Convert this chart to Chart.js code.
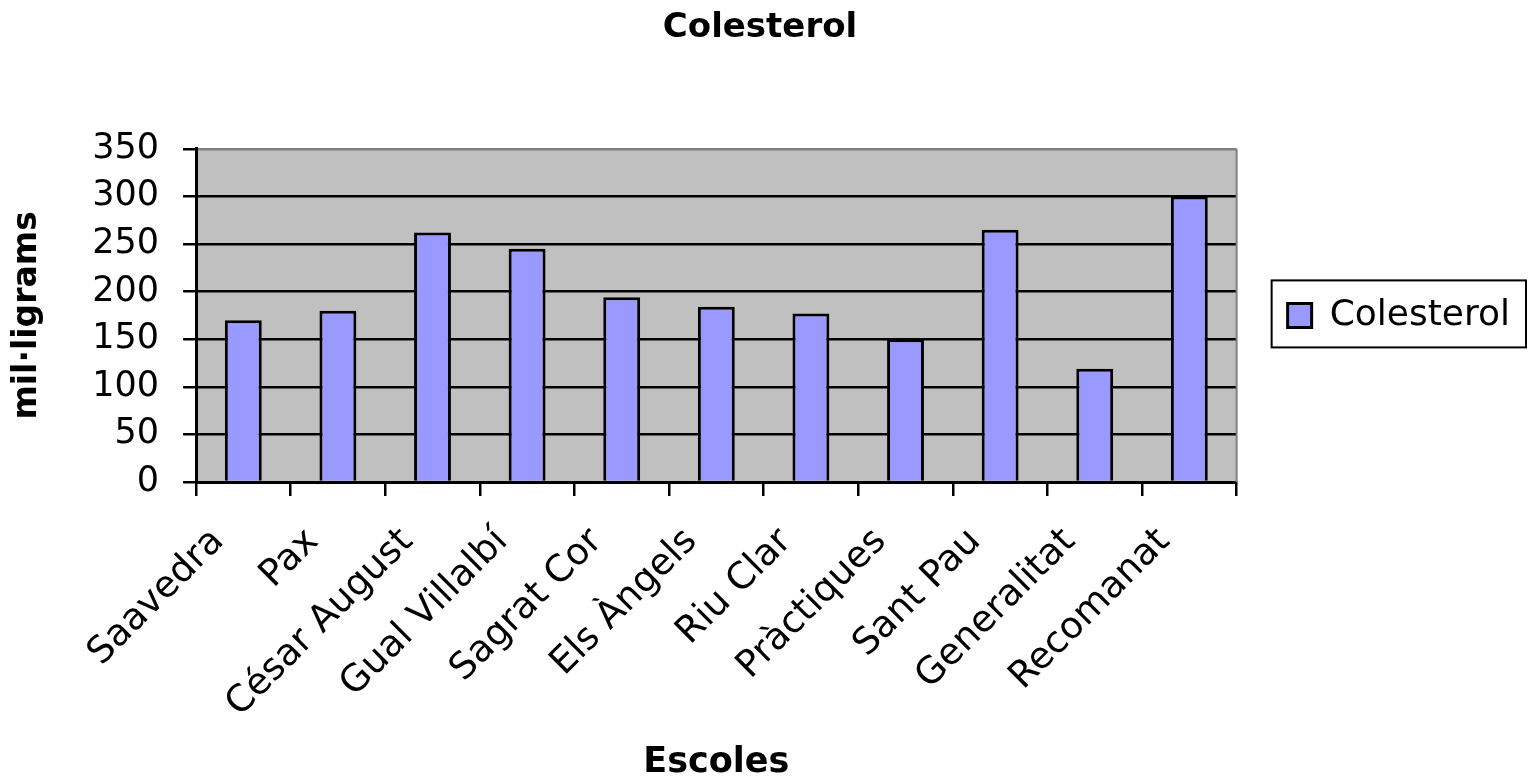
<!DOCTYPE html>
<html>
<head>
<meta charset="utf-8">
<script src="https://cdn.jsdelivr.net/npm/chart.js@4/dist/chart.umd.min.js"></script>
<style>
    html, body { margin: 0; padding: 0; background: #fff; }
    #wrap { width: 1530px; height: 784px; }
</style>
</head>
<body>
<div id="wrap"><canvas id="myChart" width="1530" height="784"></canvas></div>
<script>
// dades llegides del gràfic
const escoles = ['Saavedra', 'Pax', 'César August', 'Gual Villalbí', 'Sagrat Cor', 'Els Àngels',
    'Riu Clar', 'Pràctiques', 'Sant Pau', 'Generalitat', 'Recomanat'];
const colesterol = [170, 180, 262, 245, 194, 184, 177, 150, 265, 119, 300];
const yTicks = [0, 50, 100, 150, 200, 250, 300, 350];

const FONT = "'DejaVu Sans', sans-serif";

// fons gris de l'àrea, vora dreta i marc de la llegenda
const plotBg = {
    id: 'plotBg',
    beforeDraw(chart) {
        const a = chart.chartArea, c = chart.ctx;
        c.save();
        c.fillStyle = '#C0C0C0';
        c.fillRect(a.left, a.top, a.right - a.left, a.bottom - a.top);
        c.restore();
    },
    afterDraw(chart) {
        const a = chart.chartArea, c = chart.ctx;
        c.save();
        c.strokeStyle = '#808080';
        c.lineWidth = 2;
        c.beginPath();
        c.moveTo(a.right, a.top);
        c.lineTo(a.right, a.bottom);
        c.stroke();
        const lg = chart.legend;
        if (lg && lg.legendHitBoxes.length) {
            const hb = lg.legendHitBoxes[0];
            c.strokeStyle = '#000';
            c.lineWidth = 2;
            c.strokeRect(hb.left - 16, hb.top + hb.height / 2 - 35, hb.width + 32, 67);
        }
        c.restore();
    }
};

const ctx = document.getElementById('myChart').getContext('2d');
const myChart = new Chart(ctx, {
    type: 'bar',
    data: {
        labels: escoles,
        datasets: [{
            label: 'Colesterol',
            data: colesterol,
            backgroundColor: '#9999FF',
            borderColor: '#000',
            borderWidth: 3,
            categoryPercentage: 1,
            barPercentage: 0.39
        }]
    },
    options: {
        responsive: false,
        animation: false,
        layout: { padding: { left: 0, right: 10, top: 0, bottom: 0 } },
        plugins: {
            title: {
                display: true,
                text: 'Colesterol',
                color: '#000',
                font: { family: FONT, size: 34, weight: 'bold' },
                padding: { top: 8, bottom: 100 }
            },
            legend: {
                position: 'right',
                fullSize: false,
                labels: {
                    color: '#000',
                    font: { family: FONT, size: 36 },
                    boxWidth: 24,
                    boxHeight: 24,
                    padding: 51
                }
            },
            tooltip: { enabled: false }
        },
        scales: {
            x: {
                afterFit(s) { s.height = 302; },
                grid: {
                    offset: true,
                    drawOnChartArea: false,
                    drawTicks: true,
                    tickLength: 14,
                    tickColor: '#000',
                    lineWidth: 2.5
                },
                border: { color: '#000', width: 3 },
                ticks: {
                    color: '#000',
                    font: { family: FONT, size: 37 },
                    minRotation: 45,
                    maxRotation: 45,
                    autoSkip: false,
                    padding: 24,
                    labelOffset: -25
                },
                title: {
                    display: true,
                    text: 'Escoles',
                    color: '#000',
                    font: { family: FONT, size: 35, weight: 'bold' },
                    padding: { top: 0, bottom: 0 }
                }
            },
            y: {
                min: 0,
                max: 350,
                afterFit(s) { s.width = 196; },
                afterBuildTicks(s) { s.ticks = yTicks.map(v => ({ value: v })); },
                grid: {
                    color: c => (c.tick && c.tick.value === 350) ? '#808080' : '#000',
                    lineWidth: 2.5,
                    tickLength: 13,
                    tickColor: '#000'
                },
                border: { color: '#000', width: 3 },
                ticks: {
                    color: '#000',
                    font: { family: FONT, size: 35 },
                    padding: 24
                },
                title: {
                    display: true,
                    text: 'mil·ligrams',
                    color: '#000',
                    font: { family: FONT, size: 33, weight: 'bold' },
                    padding: { top: 8, bottom: 0 }
                }
            }
        }
    },
    plugins: [plotBg]
});
</script>
</body>
</html>
